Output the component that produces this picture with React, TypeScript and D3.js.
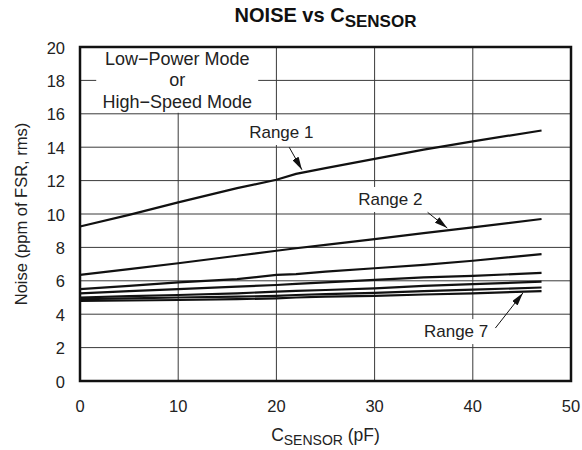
import * as d3 from "d3";

// capacitance (pF) sample points
const cSensor = [0, 5, 10, 16, 20, 22, 25, 30, 35, 40, 47];

// noise per range (ppm of FSR, rms), top to bottom
const range1 = [9.25, 9.95, 10.7, 11.55, 12.05, 12.4, 12.75, 13.3, 13.85, 14.35, 15.0];
const range2 = [6.35, 6.7, 7.05, 7.5, 7.8, 7.95, 8.15, 8.5, 8.85, 9.2, 9.7];
const range3 = [5.5, 5.7, 5.9, 6.1, 6.35, 6.4, 6.55, 6.75, 6.95, 7.2, 7.6];
const range4 = [5.25, 5.38, 5.5, 5.65, 5.75, 5.82, 5.9, 6.05, 6.2, 6.3, 6.47];
const range5 = [5.0, 5.08, 5.15, 5.25, 5.35, 5.4, 5.45, 5.55, 5.7, 5.8, 5.95];
const range6 = [4.9, 4.95, 5.0, 5.05, 5.1, 5.15, 5.2, 5.28, 5.38, 5.47, 5.6];
const range7 = [4.8, 4.82, 4.85, 4.9, 4.95, 5.0, 5.05, 5.1, 5.18, 5.25, 5.38];
const allRanges = [range1, range2, range3, range4, range5, range6, range7];

const xTicks = [0, 10, 20, 30, 40, 50];
const yTicks = [0, 2, 4, 6, 8, 10, 12, 14, 16, 18, 20];

// callouts in data units: label anchor, arrow tail, arrow head
const callouts = [
  { text: "Range 1", lx: 20.5, ly: 14.55, x0: 21.3, y0: 14.0, x1: 22.6, y1: 12.65 },
  { text: "Range 2", lx: 31.6, ly: 10.54, x0: 35.4, y0: 10.1, x1: 37.4, y1: 9.16 },
  { text: "Range 7", lx: 38.3, ly: 2.63, x0: 42.3, y0: 3.17, x1: 45.1, y1: 5.27 },
];
const modeLines = ["Low\u2212Power Mode", "or", "High\u2212Speed Mode"];
const modeX = 9.9;
const modeY = [18.94, 17.65, 16.35];

const W = 582;
const H = 450;
const margin = { top: 47, right: 11, bottom: 69, left: 80 };
const font = "Liberation Sans, Arial, sans-serif";

const App = () => {
  const x = d3.scaleLinear().domain([0, 50]).range([margin.left, W - margin.right]);
  const y = d3.scaleLinear().domain([0, 20]).range([H - margin.bottom, margin.top]);

  const line = d3
    .line<number>()
    .x((_, i) => x(cSensor[i]))
    .y((d) => y(d));

  return (
    <svg
      width={W}
      height={H}
      style={{ position: "absolute", left: 0, top: 0, background: "#fff" }}
      fontFamily={font}
    >
      <defs>
        <marker id="head" viewBox="0 0 13 7" refX="13" refY="3.5" markerWidth="13" markerHeight="7" markerUnits="userSpaceOnUse" orient="auto">
          <path d="M0,0 L13,3.5 L0,7 Z" fill="#111" />
        </marker>
      </defs>

      {/* grid */}
      {xTicks.slice(1, -1).map((t) => (
        <line key={"gx" + t} x1={x(t)} x2={x(t)} y1={y(0)} y2={y(20)} stroke="#3a3a3a" strokeWidth={1} />
      ))}
      {yTicks.slice(1, -1).map((t) => (
        <line key={"gy" + t} x1={x(0)} x2={x(50)} y1={y(t)} y2={y(t)} stroke="#3a3a3a" strokeWidth={1} />
      ))}

      {/* mode note, white block cutting the grid */}
      <rect x={x(modeX) - 81} y={y(20)} width={162} height={y(16) - y(20) - 1} fill="#fff" />
      {modeLines.map((s, i) => (
        <text key={"m" + i} x={x(modeX)} y={y(modeY[i])} fontSize={18} textAnchor="middle" fill="#222">{s}</text>
      ))}

      {/* callouts */}
      {callouts.map((c) => (
        <g key={c.text}>
          <rect x={x(c.lx) - 36} y={y(c.ly) - 18} width={72} height={25} fill="#fff" />
          <text x={x(c.lx)} y={y(c.ly)} fontSize={17} textAnchor="middle" fill="#222">{c.text}</text>
          <line x1={x(c.x0)} y1={y(c.y0)} x2={x(c.x1)} y2={y(c.y1)} stroke="#111" strokeWidth={1} markerEnd="url(#head)" />
        </g>
      ))}

      {/* curves */}
      {allRanges.map((r, i) => (
        <path key={"r" + i} d={line(r) ?? ""} fill="none" stroke="#111" strokeWidth={2.2} />
      ))}

      {/* frame */}
      <rect x={x(0)} y={y(20)} width={x(50) - x(0)} height={y(0) - y(20)} fill="none" stroke="#111" strokeWidth={2.5} />

      {/* tick labels */}
      {yTicks.map((t) => (
        <text key={"yl" + t} x={x(0) - 15} y={y(t) + 6.5} fontSize={16.5} textAnchor="end" fill="#222">{t}</text>
      ))}
      {xTicks.map((t) => (
        <text key={"xl" + t} x={x(t)} y={y(0) + 31} fontSize={16.5} textAnchor="middle" fill="#222">{t}</text>
      ))}

      {/* axis titles */}
      <text x={(x(0) + x(50)) / 2} y={441} fontSize={17.5} textAnchor="middle" fill="#222">
        C<tspan fontSize={14} dy={4}>SENSOR</tspan><tspan dy={-4}> (pF)</tspan>
      </text>
      <text transform={`translate(27,${(y(0) + y(20)) / 2}) rotate(-90)`} fontSize={16.5} textAnchor="middle" fill="#222">
        Noise (ppm of FSR, rms)
      </text>
      <text x={(x(0) + x(50)) / 2} y={22} fontSize={20} fontWeight="bold" textAnchor="middle" fill="#111">
        NOISE vs C<tspan fontSize={17} dy={5}>SENSOR</tspan>
      </text>
    </svg>
  );
};

export default App;
